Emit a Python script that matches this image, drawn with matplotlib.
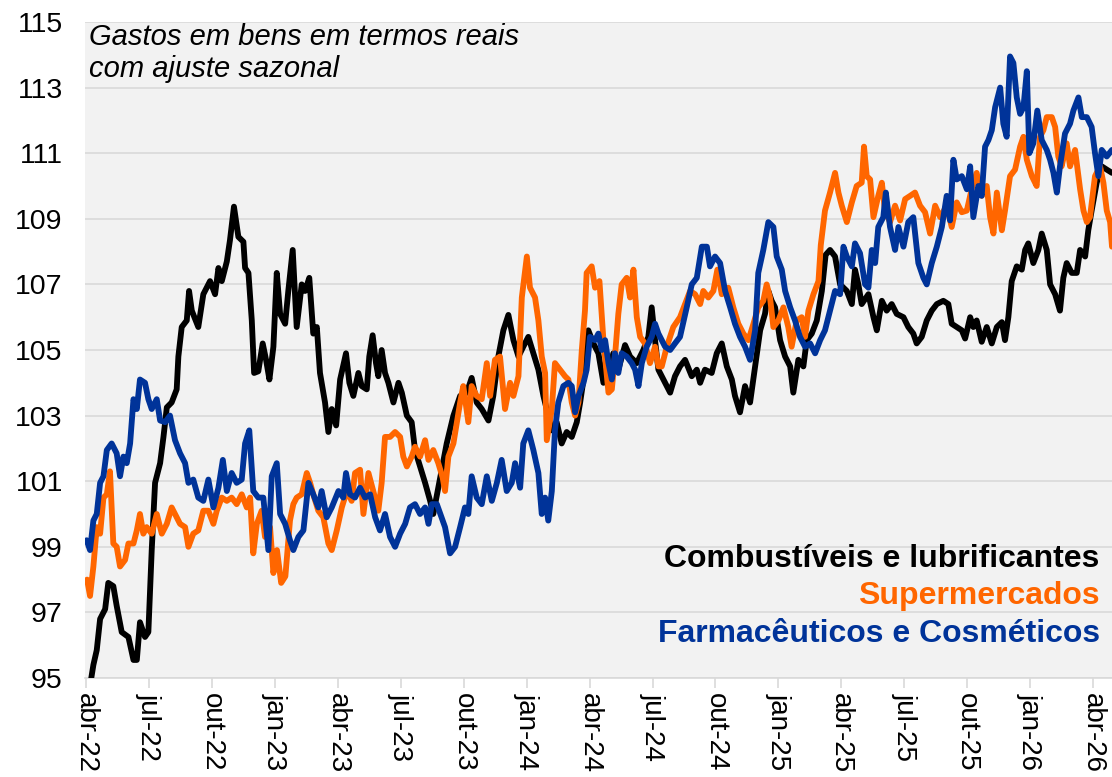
import matplotlib
matplotlib.use("Agg")
import matplotlib.pyplot as plt

plt.rcParams['font.family'] = ['Liberation Sans', 'DejaVu Sans']

# time axis: months since abr-22
tick_labels = ["abr-22", "jul-22", "out-22", "jan-23", "abr-23", "jul-23", "out-23", "jan-24",
               "abr-24", "jul-24", "out-24", "jan-25", "abr-25", "jul-25", "out-25", "jan-26", "abr-26"]
tick_months = [0, 3, 6, 9, 12, 15, 18, 21, 24, 27, 30, 33, 36, 39, 42, 45, 48]

# Combustíveis e lubrificantes
comb_t = [0.15, 0.35, 0.51, 0.67, 0.91, 1.06, 1.30, 1.46, 1.70, 2.02, 2.26, 2.42, 2.57, 2.81, 2.97,
          3.13, 3.29, 3.53, 3.69, 3.85, 4.08, 4.32, 4.40, 4.56, 4.80, 4.91, 5.04, 5.35, 5.59, 5.91,
          6.15, 6.31, 6.47, 6.71, 6.86, 7.05, 7.26, 7.50, 7.58, 7.74, 7.90, 8.01, 8.21, 8.42, 8.58,
          8.74, 8.93, 9.09, 9.25, 9.49, 9.64, 9.85, 10.04, 10.28, 10.44, 10.64, 10.83, 11.00, 11.15,
          11.39, 11.55, 11.71, 11.92, 12.11, 12.39, 12.55, 12.74, 12.98, 13.14, 13.38, 13.50, 13.66,
          13.82, 13.93, 14.09, 14.25, 14.41, 14.65, 14.89, 15.05, 15.29, 15.52, 15.68, 15.92, 16.16,
          16.40, 16.55, 16.79, 17.19, 17.51, 17.83, 18.15, 18.38, 18.62, 18.86, 19.18, 19.41, 19.65,
          19.89, 20.13, 20.37, 20.61, 20.84, 21.08, 21.32, 21.56, 21.80, 22.03, 22.20, 22.43, 22.67,
          22.91, 23.15, 23.39, 23.55, 23.78, 23.94, 24.18, 24.42, 24.66, 24.90, 25.13, 25.37, 25.69,
          25.93, 26.25, 26.56, 26.80, 26.96, 27.12, 27.28, 27.52, 27.84, 28.07, 28.31, 28.55, 28.87,
          29.11, 29.27, 29.50, 29.82, 30.06, 30.30, 30.54, 30.78, 30.93, 31.17, 31.41, 31.65, 31.89,
          32.13, 32.36, 32.52, 32.68, 32.84, 33.08, 33.32, 33.56, 33.71, 33.95, 34.19, 34.35, 34.59,
          34.83, 35.07, 35.25, 35.46, 35.70, 35.94, 36.26, 36.50, 36.65, 36.81, 36.97, 37.29, 37.53,
          37.69, 37.93, 38.16, 38.40, 38.64, 38.96, 39.19, 39.43, 39.59, 39.83, 40.07, 40.31, 40.55,
          40.86, 41.10, 41.26, 41.50, 41.74, 41.90, 42.14, 42.29, 42.45, 42.69, 42.93, 43.17, 43.41,
          43.65, 43.80, 43.96, 44.12, 44.36, 44.60, 44.76, 44.91, 45.15, 45.39, 45.55, 45.79, 45.95,
          46.19, 46.42, 46.58, 46.74, 46.98, 47.22, 47.38, 47.62, 47.77, 47.93, 48.17, 48.41, 48.65,
          48.90]
comb_v = [94.6, 95.4, 95.85, 96.8, 97.1, 97.9, 97.8, 97.2, 96.4, 96.25, 95.55, 95.55, 96.7, 96.25, 96.4,
          98.9, 100.95, 101.55, 102.35, 103.25, 103.4, 103.8, 104.8, 105.7, 105.9, 106.8, 106.2, 105.7, 106.7, 107.1,
          106.7, 107.5, 107.1, 107.7, 108.35, 109.37, 108.45, 108.3, 107.5, 107.35, 105.9, 104.3, 104.35, 105.2, 104.7,
          104.1, 105.1, 107.35, 106.1, 105.8, 106.8, 108.05, 105.7, 107.0, 106.8, 107.2, 105.5, 105.7, 104.3,
          103.4, 102.5, 103.2, 102.7, 104.1, 104.9, 104.0, 103.6, 104.3, 103.9, 103.8, 104.8, 105.45,
          104.6, 104.2, 105.0, 104.3, 104.0, 103.4, 104.0, 103.7, 103.0, 102.8, 101.95, 101.45, 100.95,
          100.4, 100.0, 100.8, 102.15, 103.0, 103.6, 103.7, 104.15, 103.4, 103.2, 102.85, 103.6, 104.8,
          105.6, 106.07, 105.3, 104.8, 105.1, 105.4, 104.9, 104.4, 103.6, 103.0, 102.55, 102.8, 102.15,
          102.5, 102.35, 102.8, 103.4, 104.4, 105.6, 105.2, 104.9, 104.0, 104.2, 104.9, 104.4, 105.15,
          104.8, 104.6, 105.0, 105.4, 106.3, 105.3, 104.4, 104.1, 103.7, 104.2, 104.5, 104.7, 104.2,
          104.4, 104.0, 104.4, 104.3, 104.9, 105.2, 104.5, 104.1, 103.6, 103.1, 103.9, 103.4, 104.5,
          105.6, 106.1, 106.8, 106.5, 106.3, 105.3, 104.8, 104.5, 103.7, 104.7, 104.5, 105.3, 105.5,
          105.9, 106.8, 107.9, 108.05, 107.85, 107.0, 106.8, 106.4, 107.45, 107.0, 106.4, 106.7, 106.0,
          105.6, 106.5, 106.2, 106.4, 106.1, 106.0, 105.7, 105.5, 105.2, 105.4, 105.9, 106.2, 106.4,
          106.5, 106.4, 105.8, 105.7, 105.6, 105.35, 106.0, 105.7, 105.9, 105.25, 105.7, 105.2, 105.7,
          105.85, 105.3, 106.0, 107.1, 107.55, 107.45, 108.05, 108.25, 107.65, 108.05, 108.55, 108.05, 107.0,
          106.7, 106.2, 107.2, 107.65, 107.35, 107.35, 108.05, 107.85, 108.65, 109.25, 110.1, 110.6, 110.5,
          110.4]

# Supermercados
super_t = [0.05, 0.19, 0.35, 0.51, 0.67, 0.83, 0.99, 1.14, 1.30, 1.46, 1.62, 1.86, 2.02, 2.26, 2.42,
           2.57, 2.73, 2.89, 3.13, 3.37, 3.61, 3.85, 4.08, 4.32, 4.48, 4.72, 4.88, 5.11, 5.35, 5.59,
           5.83, 6.07, 6.23, 6.47, 6.71, 6.94, 7.18, 7.42, 7.66, 7.82, 7.97, 8.14, 8.37, 8.53, 8.77,
           8.93, 9.10, 9.30, 9.50, 9.72, 9.88, 10.04, 10.28, 10.52, 10.68, 10.83, 11.07, 11.31, 11.55,
           11.71, 11.95, 12.19, 12.43, 12.66, 12.82, 13.06, 13.22, 13.46, 13.69, 13.93, 14.09, 14.25,
           14.49, 14.73, 14.97, 15.12, 15.29, 15.52, 15.68, 15.92, 16.16, 16.32, 16.55, 16.79, 17.00,
           17.11, 17.27, 17.51, 17.83, 17.98, 18.22, 18.38, 18.62, 18.86, 19.10, 19.26, 19.49, 19.73,
           19.97, 20.21, 20.37, 20.61, 20.77, 21.01, 21.16, 21.40, 21.56, 21.72, 21.88, 21.96, 22.20,
           22.35, 22.59, 22.83, 22.99, 23.15, 23.31, 23.47, 23.63, 23.78, 23.86, 24.10, 24.26, 24.47,
           24.66, 24.90, 25.06, 25.21, 25.37, 25.53, 25.77, 25.93, 26.09, 26.25, 26.41, 26.64, 26.88,
           27.12, 27.28, 27.44, 27.68, 27.99, 28.31, 28.55, 28.79, 29.03, 29.27, 29.42, 29.66, 29.90,
           30.09, 30.30, 30.61, 30.85, 31.09, 31.33, 31.57, 31.81, 32.04, 32.28, 32.44, 32.60, 32.76,
           33.00, 33.24, 33.47, 33.63, 33.87, 34.11, 34.27, 34.43, 34.67, 34.91, 35.02, 35.22, 35.46,
           35.70, 35.86, 36.02, 36.26, 36.50, 36.73, 36.97, 37.08, 37.21, 37.37, 37.53, 37.76, 37.93,
           38.08, 38.32, 38.56, 38.80, 39.04, 39.28, 39.51, 39.75, 39.99, 40.23, 40.47, 40.71, 41.02,
           41.26, 41.50, 41.74, 41.98, 42.21, 42.45, 42.69, 42.93, 43.09, 43.25, 43.41, 43.65, 43.80,
           44.04, 44.28, 44.52, 44.68, 44.84, 45.08, 45.31, 45.47, 45.63, 45.79, 46.03, 46.19, 46.34,
           46.50, 46.74, 46.90, 47.14, 47.38, 47.54, 47.70, 47.85, 48.09, 48.33, 48.49, 48.65, 48.81,
           48.90]
super_v = [98.0, 97.5, 98.4, 99.6, 99.4, 100.5, 100.6, 101.3, 99.1, 99.0, 98.4, 98.6, 99.1, 99.1, 99.5,
           100.0, 99.4, 99.6, 99.4, 100.0, 99.4, 99.7, 100.2, 99.9, 99.7, 99.6, 99.0, 99.4, 99.5, 100.1,
           100.1, 99.7, 100.1, 100.5, 100.4, 100.5, 100.3, 100.6, 100.2, 100.5, 98.8, 99.7, 100.1, 99.3, 99.6,
           98.2, 98.9, 97.9, 98.1, 99.8, 100.3, 100.5, 100.6, 101.25, 100.95, 100.6, 100.1, 99.9, 99.1,
           98.9, 99.5, 100.2, 100.7, 100.4, 101.25, 101.35, 100.0, 101.25, 100.7, 100.1, 100.95, 102.35,
           102.35, 102.5, 102.35, 101.75, 101.45, 101.75, 102.05, 101.75, 102.25, 101.65, 101.95, 101.55, 101.1,
           100.7, 101.75, 102.15, 103.4, 103.9, 102.8, 103.9, 103.6, 103.5, 104.6, 103.6, 104.7, 104.8,
           103.2, 104.0, 103.6, 104.2, 106.6, 107.85, 106.9, 106.6, 105.9, 104.8, 104.3, 102.25, 103.2,
           104.6, 104.4, 104.2, 104.1, 103.4, 103.0, 103.4, 105.0, 106.2, 107.35, 107.55, 106.9, 107.1,
           105.3, 103.7, 103.8, 104.8, 106.1, 107.0, 107.2, 106.6, 107.45, 106.0, 105.4, 105.2, 104.6,
           105.1, 104.5, 104.5, 105.1, 105.7, 106.0, 106.4, 106.8, 106.7, 106.4, 106.8, 106.6, 106.8,
           107.45, 106.7, 106.9, 106.3, 105.8, 105.5, 105.3, 105.8, 106.3, 106.5, 107.0, 106.6, 105.7,
           105.9, 106.3, 105.7, 105.1, 105.9, 106.0, 105.4, 106.2, 106.7, 107.1, 108.2, 109.25, 109.8,
           110.4, 109.8, 109.4, 108.9, 109.5, 110.0, 110.1, 111.2, 110.3, 110.2, 109.05, 109.7, 110.1,
           109.25, 108.9, 109.4, 108.95, 109.6, 109.7, 109.8, 109.4, 109.2, 108.55, 109.4, 109.05, 109.4,
           108.75, 109.5, 109.2, 109.25, 109.9, 110.4, 109.7, 110.0, 109.05, 108.55, 109.8, 108.65, 109.25,
           110.3, 110.5, 111.2, 111.5, 110.8, 110.3, 110.0, 111.5, 111.7, 112.1, 112.1, 111.8, 110.9,
           110.6, 111.3, 110.6, 111.1, 109.9, 109.25, 108.9, 109.05, 110.3, 110.6, 110.1, 109.25, 108.9,
           108.15]

# Farmacêuticos e Cosméticos
farm_t = [0.03, 0.19, 0.35, 0.51, 0.67, 0.83, 0.99, 1.22, 1.46, 1.62, 1.78, 1.94, 2.10, 2.26, 2.42,
          2.57, 2.81, 2.97, 3.13, 3.37, 3.53, 3.77, 4.00, 4.24, 4.48, 4.72, 4.88, 5.11, 5.35, 5.59,
          5.83, 6.07, 6.31, 6.52, 6.71, 6.94, 7.18, 7.42, 7.58, 7.78, 7.97, 8.21, 8.45, 8.69, 8.85,
          9.09, 9.25, 9.49, 9.72, 9.88, 10.12, 10.36, 10.60, 10.83, 11.07, 11.23, 11.47, 11.71, 12.03,
          12.26, 12.39, 12.58, 12.82, 13.06, 13.30, 13.54, 13.78, 14.01, 14.25, 14.49, 14.73, 14.97,
          15.21, 15.44, 15.68, 15.92, 16.16, 16.32, 16.48, 16.72, 17.11, 17.35, 17.59, 17.83, 18.06,
          18.22, 18.38, 18.62, 18.86, 19.10, 19.34, 19.58, 19.81, 20.05, 20.29, 20.45, 20.69, 20.84,
          21.08, 21.32, 21.56, 21.72, 21.88, 22.03, 22.20, 22.35, 22.51, 22.75, 22.99, 23.15, 23.31,
          23.47, 23.71, 23.86, 24.02, 24.26, 24.42, 24.58, 24.74, 24.90, 25.06, 25.21, 25.37, 25.53,
          25.77, 26.01, 26.17, 26.33, 26.49, 26.72, 26.96, 27.12, 27.28, 27.60, 27.84, 28.07, 28.31,
          28.63, 28.87, 29.11, 29.35, 29.59, 29.74, 29.98, 30.22, 30.46, 30.70, 30.93, 31.17, 31.41,
          31.65, 31.89, 32.04, 32.28, 32.52, 32.76, 32.92, 33.16, 33.32, 33.56, 33.79, 34.03, 34.27,
          34.51, 34.75, 34.99, 35.22, 35.46, 35.70, 35.94, 36.10, 36.26, 36.50, 36.65, 36.89, 37.13,
          37.29, 37.45, 37.61, 37.76, 38.00, 38.12, 38.32, 38.56, 38.72, 38.96, 39.19, 39.43, 39.67,
          39.91, 40.07, 40.31, 40.55, 40.79, 41.02, 41.18, 41.34, 41.50, 41.74, 41.98, 42.14, 42.29,
          42.53, 42.69, 42.85, 43.01, 43.17, 43.33, 43.57, 43.72, 43.88, 44.04, 44.20, 44.36, 44.52,
          44.68, 44.84, 44.96, 45.15, 45.34, 45.55, 45.79, 45.95, 46.11, 46.27, 46.42, 46.66, 46.90,
          47.06, 47.30, 47.46, 47.70, 47.93, 48.09, 48.25, 48.41, 48.65, 48.90]
farm_v = [99.2, 98.9, 99.8, 100.0, 100.95, 101.15, 101.95, 102.15, 101.85, 101.15, 101.75, 101.55, 102.15, 103.5, 103.2,
          104.1, 104.0, 103.5, 103.2, 103.5, 102.85, 102.8, 103.0, 102.25, 101.85, 101.55, 100.95, 101.05, 100.5, 100.4,
          101.05, 100.2, 100.8, 101.65, 100.7, 101.25, 100.95, 101.05, 102.15, 102.55, 100.7, 100.5, 100.5, 98.9, 101.15,
          101.55, 100.0, 99.7, 99.2, 98.9, 99.3, 99.5, 100.95, 100.6, 100.2, 100.7, 99.9, 100.2, 100.7,
          100.5, 101.25, 100.6, 100.5, 100.8, 100.5, 100.6, 99.9, 99.5, 100.0, 99.3, 99.0, 99.4,
          99.7, 100.2, 100.3, 100.0, 100.2, 99.7, 100.3, 100.3, 99.6, 98.8, 99.0, 99.6, 100.2,
          100.0, 101.15, 100.5, 100.3, 101.15, 100.4, 100.95, 101.65, 100.7, 100.95, 101.55, 100.8, 102.15,
          102.55, 101.95, 101.25, 100.0, 100.5, 99.8, 100.7, 102.55, 103.4, 103.9, 104.0, 103.9, 103.1,
          103.6, 104.0, 104.4, 105.4, 105.3, 105.5, 105.0, 105.3, 104.6, 104.1, 104.9, 104.3, 104.9,
          104.8, 104.6, 104.4, 103.9, 104.6, 105.1, 105.4, 105.8, 105.5, 105.1, 105.0, 105.2, 105.4,
          106.3, 107.0, 107.2, 108.15, 108.15, 107.55, 107.85, 107.65, 106.8, 106.3, 105.8, 105.4, 105.1,
          104.7, 105.6, 107.35, 108.05, 108.9, 108.75, 107.85, 107.45, 106.8, 106.3, 105.9, 105.4, 105.1,
          105.2, 104.9, 105.3, 105.6, 106.2, 106.8, 106.7, 108.15, 107.85, 107.55, 108.25, 107.95, 107.0,
          106.9, 108.05, 107.65, 108.75, 109.05, 109.8, 108.75, 108.05, 108.75, 108.15, 108.9, 109.05, 107.65,
          107.2, 107.0, 107.65, 108.15, 108.75, 109.7, 108.95, 110.8, 110.2, 110.3, 109.9, 110.6, 109.05,
          110.0, 109.7, 111.2, 111.4, 111.7, 112.4, 113.0, 111.9, 111.5, 113.95, 113.75, 112.7, 112.2,
          112.4, 113.5, 111.0, 111.3, 112.3, 111.4, 111.1, 110.8, 110.4, 109.8, 110.6, 111.6, 111.9,
          112.3, 112.7, 112.1, 112.1, 111.8, 111.0, 110.3, 111.1, 110.9, 111.1]

series_names = ["Combustíveis e lubrificantes", "Supermercados", "Farmacêuticos e Cosméticos"]
series_colors = ["#000000", "#FF6600", "#003399"]
title_lines = ["Gastos em bens em termos reais", "com ajuste sazonal"]
y_ticks = [95, 97, 99, 101, 103, 105, 107, 109, 111, 113, 115]

fig = plt.figure(figsize=(11.12, 7.77), dpi=100)
ax = fig.add_axes([85 / 1112, 99 / 777, 1027 / 1112, 656 / 777])
ax.set_facecolor("#F2F2F2")

for t, v, c in zip([comb_t, super_t, farm_t], [comb_v, super_v, farm_v], series_colors):
    ax.plot(t, v, color=c, lw=4.2, solid_joinstyle="round", solid_capstyle="round", zorder=3)

ax.set_ylim(95, 115)
ax.set_xlim(-0.05, 48.9)
ax.set_yticks(y_ticks)
ax.set_yticklabels([str(y) for y in y_ticks], fontsize=20.5)
ax.set_xticks(tick_months)
ax.set_xticklabels(tick_labels, rotation=270, fontsize=20, va="top", ha="center")
ax.grid(axis="y", color="#D9D9D9", lw=1.2, zorder=0)
ax.set_axisbelow(True)
for s in ["top", "left", "right"]:
    ax.spines[s].set_visible(False)
ax.spines["bottom"].set_color("#D9D9D9")
ax.spines["bottom"].set_linewidth(1.2)
ax.tick_params(axis="y", length=0, pad=16)
ax.tick_params(axis="x", length=7, color="#D9D9D9", width=1.2, pad=4)

for line, y in zip(title_lines, [0.965, 0.916]):
    ax.text(0.004, y, line, transform=ax.transAxes, fontsize=21, style="italic",
            ha="left", va="baseline")

ys = [0.169, 0.113, 0.055]
for name, c, y in zip(series_names, series_colors, ys):
    ax.text(0.988, y, name, transform=ax.transAxes, fontsize=23, fontweight="bold",
            color=c, ha="right", va="baseline")

fig.savefig("out.png", dpi=100)
